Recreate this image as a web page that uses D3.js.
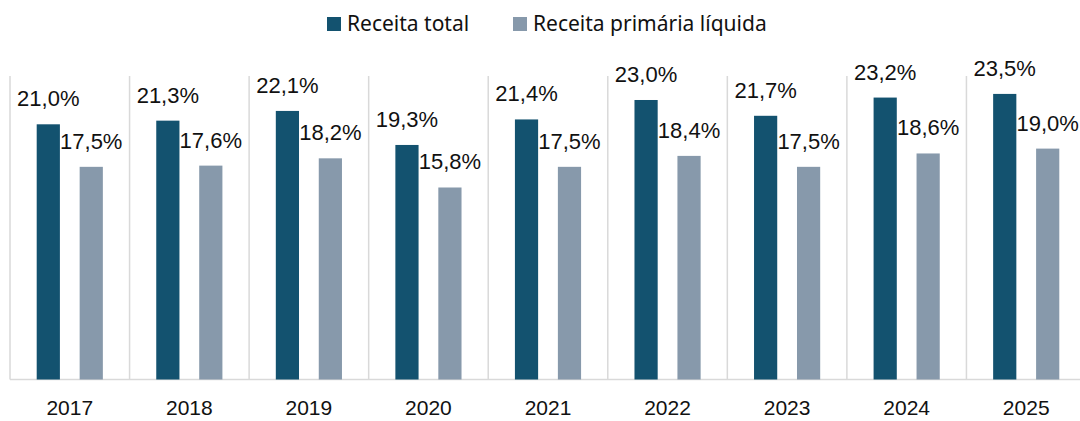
<!DOCTYPE html>
<html>
<head>
<meta charset="utf-8">
<script src="https://cdn.jsdelivr.net/npm/d3@7"></script>
<style>
  body { margin: 0; background: #fff; }
  svg { display: block; }
</style>
</head>
<body>
<div id="chart"></div>
<script>
const years = ['2017', '2018', '2019', '2020', '2021', '2022', '2023', '2024', '2025'];
const receitaTotal = [21.0, 21.3, 22.1, 19.3, 21.4, 23.0, 21.7, 23.2, 23.5];
const receitaPrimaria = [17.5, 17.6, 18.2, 15.8, 17.5, 18.4, 17.5, 18.6, 19.0];
const seriesNames = ['Receita total', 'Receita primária líquida'];
const colors = ['#13526F', '#8799AB'];

const width = 1080, height = 421;
const margin = { top: 76, left: 10, bottom: 41 };
const plotRight = 1086;

const svg = d3.select('#chart').append('svg')
    .attr('width', width)
    .attr('height', height);

const x = d3.scaleBand()
    .domain(years)
    .range([margin.left, plotRight]);

const inner = d3.scaleBand()
    .domain([0, 1])
    .range([26.7, x.bandwidth() - 26.7])
    .paddingInner(0.46);

const y = d3.scaleLinear()
    .domain([0, 21])
    .range([height - margin.bottom - 0.5, 124.3]);

// vertical separators
svg.append('g')
    .selectAll('line')
    .data(years)
    .join('line')
    .attr('x1', d => x(d))
    .attr('x2', d => x(d))
    .attr('y1', margin.top)
    .attr('y2', y(0))
    .attr('stroke', '#d9d9d9')
    .attr('stroke-width', 1.5);

// baseline
svg.append('line')
    .attr('x1', margin.left)
    .attr('x2', plotRight)
    .attr('y1', y(0))
    .attr('y2', y(0))
    .attr('stroke', '#d9d9d9')
    .attr('stroke-width', 1.5);

const rows = years.map((yr, i) => ({ year: yr, values: [receitaTotal[i], receitaPrimaria[i]] }));

const groups = svg.append('g')
    .selectAll('g')
    .data(rows)
    .join('g')
    .attr('transform', d => `translate(${x(d.year)},0)`);

groups.selectAll('rect')
    .data(d => d.values.map((v, k) => ({ k, v })))
    .join('rect')
    .attr('x', d => inner(d.k))
    .attr('width', inner.bandwidth())
    .attr('y', d => y(d.v))
    .attr('height', d => y(0) - y(d.v))
    .attr('fill', d => colors[d.k]);

groups.selectAll('text.lbl')
    .data(d => d.values.map((v, k) => ({ k, v })))
    .join('text')
    .attr('class', 'lbl')
    .attr('x', d => inner(d.k) + inner.bandwidth() / 2)
    .attr('y', d => y(d.v) - 18)
    .attr('text-anchor', 'middle')
    .attr('font-family', 'Liberation Sans, Arial, sans-serif')
    .attr('font-size', 22)
    .attr('fill', '#111')
    .text(d => d3.format('.1f')(d.v).replace('.', ',') + '%');

// x axis labels
svg.append('g')
    .selectAll('text')
    .data(years)
    .join('text')
    .attr('x', d => x(d) + x.bandwidth() / 2)
    .attr('y', 415)
    .attr('text-anchor', 'middle')
    .attr('font-family', 'Liberation Sans, Arial, sans-serif')
    .attr('font-size', 21)
    .attr('fill', '#111')
    .text(d => d);

// legend
const legendX = [327, 513];
const legend = svg.append('g')
    .selectAll('g')
    .data(seriesNames)
    .join('g')
    .attr('transform', (d, i) => `translate(${legendX[i]},17)`);

legend.append('rect')
    .attr('width', 14)
    .attr('height', 14)
    .attr('fill', (d, i) => colors[i]);

legend.append('text')
    .attr('x', 20)
    .attr('y', 14)
    .attr('font-family', 'Noto Sans, sans-serif')
    .attr('font-size', 21)
    .attr('fill', '#111')
    .text(d => d);
</script>
</body>
</html>
